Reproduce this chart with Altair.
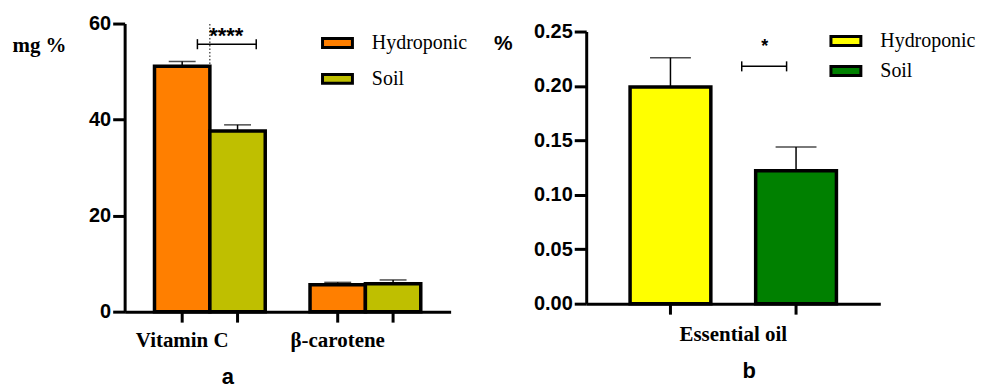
import altair as alt
import pandas as pd

# ---------------- data ----------------
nutrients = ["Vitamin C", "β-carotene"]
groups = ["Hydroponic", "Soil"]
a_nutrient = ["Vitamin C", "Vitamin C", "β-carotene", "β-carotene"]
a_group = ["Hydroponic", "Soil", "Hydroponic", "Soil"]
a_mean = [51.1, 37.6, 5.6, 5.8]
a_upper = [52.1, 38.9, 6.1, 6.6]

b_category = ["Essential oil", "Essential oil"]
b_group = ["Hydroponic", "Soil"]
b_mean = [0.199, 0.122]
b_upper = [0.226, 0.144]

a_colors = ["#FF7F00", "#BFBF00"]
b_colors = ["#FFFF00", "#008000"]

a_ticks = [0, 20, 40, 60]
b_ticks = [0, 0.05, 0.10, 0.15, 0.20, 0.25]

a_sig_text = ["****"]
a_sig_y = [55.7]
a_sig_text_y = [57.3]
b_sig_text = ["*"]
b_sig_y = [0.218]
b_sig_text_y = [0.236]

dfa = pd.DataFrame({"nutrient": a_nutrient, "group": a_group, "mean": a_mean, "upper": a_upper})
dfb = pd.DataFrame({"nutrient": b_category, "group": b_group, "mean": b_mean, "upper": b_upper})

SANS = "Liberation Sans"
SERIF = "Liberation Serif"

WA, HA = 327, 289
WB, HB = 295, 281

swatch = "M-1,-0.3H1V0.3H-1Z"


def legend(x, y, rowpad):
    return alt.Legend(
        title=None, orient="none", legendX=x, legendY=y,
        symbolType=swatch, symbolSize=900, symbolStrokeColor="black",
        symbolStrokeWidth=3, symbolOpacity=1, labelFont=SERIF, labelFontSize=20,
        labelColor="black", labelOffset=18, rowPadding=rowpad, padding=0,
    )


def yaxis(title, tx, ty, tfont, values, fmt):
    return alt.Axis(
        values=values, format=fmt, grid=False, title=title, titleAngle=0,
        titleX=tx, titleY=ty, titleAlign="left", titleBaseline="middle",
        titleFont=tfont, titleFontSize=21, titleFontWeight="bold", titleColor="black",
        labelFont=SANS, labelFontSize=20, labelFontWeight="bold", labelColor="black",
        labelPadding=2, tickSize=12, tickWidth=3, tickColor="black",
        domainWidth=3, domainColor="black",
    )


xaxis = alt.Axis(title=None, labels=False, ticks=False, domainWidth=3, domainColor="black")


def panel(df, xscale, offscale, yscale, yax, colors, leg, W, H,
          sig_text, sig_y, sig_text_y, br_x1, br_x2, cap, cap_half, star_x, star_size,
          label_group, label_dy, title_text, title_dx, dotted):
    base = alt.Chart(df)
    x = alt.X("nutrient:N", scale=xscale, axis=xaxis, sort=None)
    xo = alt.XOffset("group:N", scale=offscale, sort=groups)

    def Y(field):
        return alt.Y(field, scale=yscale, axis=yax)

    bars = base.mark_bar(stroke="black", strokeWidth=3.5).encode(
        x=x, xOffset=xo, y=Y("mean:Q"),
        color=alt.Color("group:N", sort=groups,
                        scale=alt.Scale(domain=groups, range=colors), legend=leg),
    )
    stems = base.mark_rule(color="black", strokeWidth=1.5).encode(
        x=x, xOffset=xo, y=Y("mean:Q"), y2="upper:Q",
    )
    caps = base.mark_tick(color="black", thickness=1.5, size=cap, orient="horizontal").encode(
        x=x, xOffset=xo, y=Y("upper:Q"),
    )
    xticks = base.mark_rule(color="black", strokeWidth=3).encode(
        x=x, xOffset=xo, y=alt.value(H), y2=alt.value(H + 11),
    )
    # category labels placed under the first bar of each group
    ldf = df[df["group"] == label_group] if label_group else df.drop_duplicates("nutrient")
    lab_enc = dict(x=x, y=alt.value(H + label_dy), text="nutrient:N")
    if label_group:
        lab_enc["xOffset"] = xo
    labels = alt.Chart(ldf).mark_text(
        font=SERIF, fontSize=21, fontWeight="bold", color="black", baseline="middle", align="center"
    ).encode(**lab_enc)

    sdf = pd.DataFrame({"t": sig_text, "y": sig_y, "ty": sig_text_y})
    sbase = alt.Chart(sdf)
    br = sbase.mark_rule(color="black", strokeWidth=1.5).encode(
        x=alt.value(br_x1), x2=alt.value(br_x2), y=Y("y:Q"),
    )
    layers = [bars, stems, caps, xticks, labels, br]
    for bx in (br_x1, br_x2):
        layers.append(
            sbase.transform_calculate(lo=f"datum.y - {cap_half}", hi=f"datum.y + {cap_half}")
            .mark_rule(color="black", strokeWidth=1.5)
            .encode(x=alt.value(bx), y=Y("lo:Q"), y2="hi:Q")
        )
    layers.append(
        sbase.mark_text(font=SANS, fontWeight="bold", fontSize=star_size, color="black",
                        baseline="middle", align="center").encode(
            x=alt.value(star_x), y=Y("ty:Q"), text="t:N")
    )
    if dotted:
        ddf = pd.DataFrame({"nutrient": [nutrients[0]], "lo": [0], "hi": [60]})
        layers.append(
            alt.Chart(ddf).mark_rule(color="black", strokeWidth=1, strokeDash=[1.5, 2]).encode(
                x=x, y=Y("lo:Q"), y2="hi:Q")
        )
    return alt.layer(*layers).properties(
        width=W, height=H,
        title=alt.TitleParams(title_text, orient="bottom", dx=title_dx, offset=17,
                              font=SANS, fontSize=22, fontWeight="bold", color="black",
                              anchor="middle"),
    )


panel_a = panel(
    dfa,
    alt.Scale(domain=nutrients, paddingInner=0.288, paddingOuter=0.192),
    alt.Scale(paddingInner=0, paddingOuter=0),
    alt.Scale(domain=[0, 60], nice=False, zero=True),
    yaxis("mg %", -113, 22, SERIF, a_ticks, "d"),
    a_colors, legend(197, 3, 9), WA, HA,
    a_sig_text, a_sig_y, a_sig_text_y, 73, 132, 27, 1.05, 102, 22,
    "Hydroponic", 29, "a", -60, True,
)

panel_b = panel(
    dfb,
    alt.Scale(domain=["Essential oil"], paddingInner=0, paddingOuter=0.2126),
    alt.Scale(paddingInner=0.357, paddingOuter=0),
    alt.Scale(domain=[0, 0.25], nice=False, zero=True, range=[HB, 8]),
    yaxis("%", -93, 20, SANS, b_ticks, ".2f"),
    b_colors, legend(244, 1, 3), WB, HB,
    b_sig_text, b_sig_y, b_sig_text_y, 156, 201, 41, 0.0046, 179, 18,
    None, 31, "b", 16, False,
)

chart = alt.hconcat(panel_a, panel_b, spacing=136, bounds="flush").resolve_scale(
    color="independent", x="independent", y="independent", xOffset="independent"
).resolve_legend(color="independent").properties(
    padding={"left": 4, "top": 5, "right": 0, "bottom": 0}, background="white"
).configure_view(stroke=None)

chart.save("out.html", embed_options={"renderer": "svg", "actions": False})
